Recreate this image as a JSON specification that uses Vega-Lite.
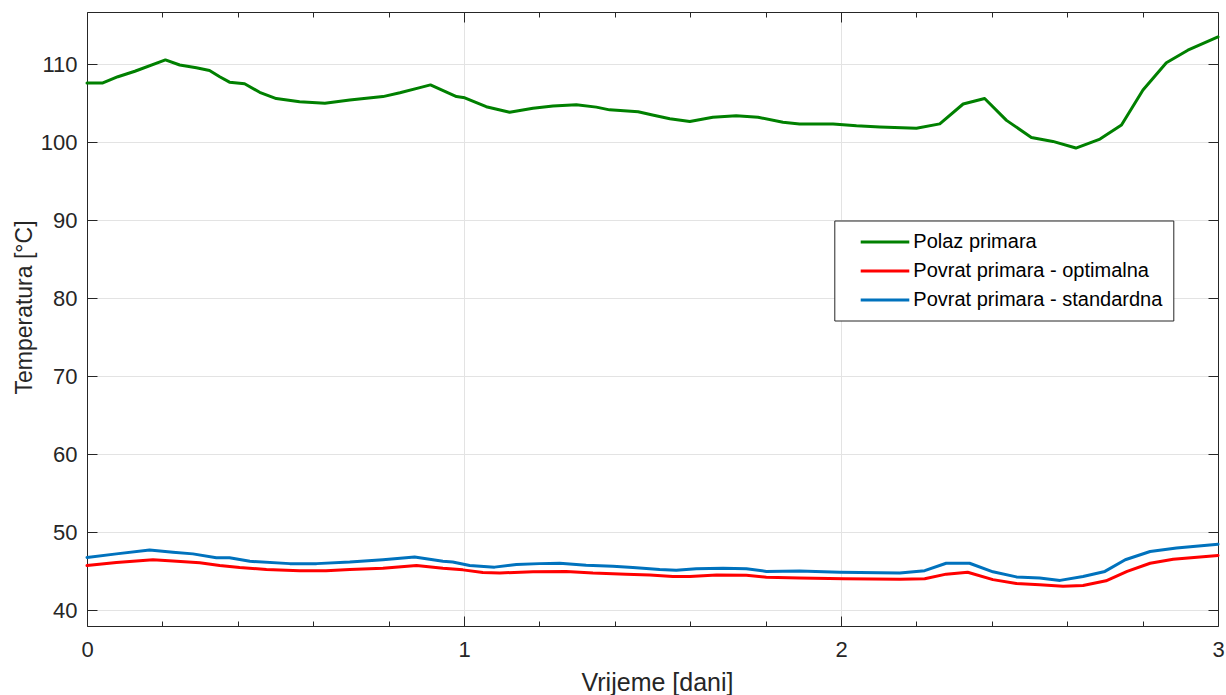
{
  "$schema": "https://vega.github.io/schema/vega-lite/v6.json",
  "width": 1131,
  "height": 614,
  "autosize": {"type": "none"},
  "padding": {"left": 87, "top": 12, "right": 8, "bottom": 69},
  "background": "white",
  "config": {
    "view": {"stroke": null},
    "font": "Liberation Sans",
    "axis": {"labelFont": "Liberation Sans", "titleFont": "Liberation Sans"},
    "legend": {"labelFont": "Liberation Sans"}
  },
  "datasets": {
    "lines": [
      {"t": 0, "T": 107.6, "s": "Polaz primara"},
      {"t": 0.042, "T": 107.6, "s": "Polaz primara"},
      {"t": 0.082, "T": 108.4, "s": "Polaz primara"},
      {"t": 0.127, "T": 109.1, "s": "Polaz primara"},
      {"t": 0.208, "T": 110.55, "s": "Polaz primara"},
      {"t": 0.246, "T": 109.9, "s": "Polaz primara"},
      {"t": 0.29, "T": 109.55, "s": "Polaz primara"},
      {"t": 0.325, "T": 109.2, "s": "Polaz primara"},
      {"t": 0.352, "T": 108.4, "s": "Polaz primara"},
      {"t": 0.378, "T": 107.7, "s": "Polaz primara"},
      {"t": 0.418, "T": 107.5, "s": "Polaz primara"},
      {"t": 0.458, "T": 106.4, "s": "Polaz primara"},
      {"t": 0.502, "T": 105.6, "s": "Polaz primara"},
      {"t": 0.564, "T": 105.2, "s": "Polaz primara"},
      {"t": 0.631, "T": 105.0, "s": "Polaz primara"},
      {"t": 0.697, "T": 105.4, "s": "Polaz primara"},
      {"t": 0.785, "T": 105.85, "s": "Polaz primara"},
      {"t": 0.83, "T": 106.35, "s": "Polaz primara"},
      {"t": 0.883, "T": 107.0, "s": "Polaz primara"},
      {"t": 0.911, "T": 107.35, "s": "Polaz primara"},
      {"t": 0.98, "T": 105.85, "s": "Polaz primara"},
      {"t": 1.002, "T": 105.7, "s": "Polaz primara"},
      {"t": 1.059, "T": 104.55, "s": "Polaz primara"},
      {"t": 1.121, "T": 103.85, "s": "Polaz primara"},
      {"t": 1.183, "T": 104.35, "s": "Polaz primara"},
      {"t": 1.236, "T": 104.65, "s": "Polaz primara"},
      {"t": 1.298, "T": 104.8, "s": "Polaz primara"},
      {"t": 1.351, "T": 104.5, "s": "Polaz primara"},
      {"t": 1.386, "T": 104.15, "s": "Polaz primara"},
      {"t": 1.462, "T": 103.9, "s": "Polaz primara"},
      {"t": 1.5, "T": 103.5, "s": "Polaz primara"},
      {"t": 1.546, "T": 103.0, "s": "Polaz primara"},
      {"t": 1.599, "T": 102.65, "s": "Polaz primara"},
      {"t": 1.66, "T": 103.2, "s": "Polaz primara"},
      {"t": 1.722, "T": 103.4, "s": "Polaz primara"},
      {"t": 1.78, "T": 103.2, "s": "Polaz primara"},
      {"t": 1.846, "T": 102.55, "s": "Polaz primara"},
      {"t": 1.89, "T": 102.35, "s": "Polaz primara"},
      {"t": 1.979, "T": 102.35, "s": "Polaz primara"},
      {"t": 2.041, "T": 102.1, "s": "Polaz primara"},
      {"t": 2.103, "T": 101.95, "s": "Polaz primara"},
      {"t": 2.2, "T": 101.8, "s": "Polaz primara"},
      {"t": 2.262, "T": 102.35, "s": "Polaz primara"},
      {"t": 2.324, "T": 104.9, "s": "Polaz primara"},
      {"t": 2.381, "T": 105.6, "s": "Polaz primara"},
      {"t": 2.439, "T": 102.8, "s": "Polaz primara"},
      {"t": 2.505, "T": 100.6, "s": "Polaz primara"},
      {"t": 2.562, "T": 100.1, "s": "Polaz primara"},
      {"t": 2.623, "T": 99.25, "s": "Polaz primara"},
      {"t": 2.687, "T": 100.4, "s": "Polaz primara"},
      {"t": 2.744, "T": 102.2, "s": "Polaz primara"},
      {"t": 2.801, "T": 106.7, "s": "Polaz primara"},
      {"t": 2.863, "T": 110.2, "s": "Polaz primara"},
      {"t": 2.92, "T": 111.8, "s": "Polaz primara"},
      {"t": 3.0, "T": 113.5, "s": "Polaz primara"},

      {"t": 0, "T": 45.7, "s": "Povrat primara - optimalna"},
      {"t": 0.078, "T": 46.1, "s": "Povrat primara - optimalna"},
      {"t": 0.175, "T": 46.45, "s": "Povrat primara - optimalna"},
      {"t": 0.228, "T": 46.3, "s": "Povrat primara - optimalna"},
      {"t": 0.299, "T": 46.05, "s": "Povrat primara - optimalna"},
      {"t": 0.352, "T": 45.7, "s": "Povrat primara - optimalna"},
      {"t": 0.405, "T": 45.45, "s": "Povrat primara - optimalna"},
      {"t": 0.476, "T": 45.2, "s": "Povrat primara - optimalna"},
      {"t": 0.564, "T": 45.05, "s": "Povrat primara - optimalna"},
      {"t": 0.634, "T": 45.05, "s": "Povrat primara - optimalna"},
      {"t": 0.697, "T": 45.2, "s": "Povrat primara - optimalna"},
      {"t": 0.785, "T": 45.35, "s": "Povrat primara - optimalna"},
      {"t": 0.874, "T": 45.7, "s": "Povrat primara - optimalna"},
      {"t": 0.944, "T": 45.35, "s": "Povrat primara - optimalna"},
      {"t": 0.997, "T": 45.15, "s": "Povrat primara - optimalna"},
      {"t": 1.05, "T": 44.8, "s": "Povrat primara - optimalna"},
      {"t": 1.095, "T": 44.75, "s": "Povrat primara - optimalna"},
      {"t": 1.183, "T": 44.9, "s": "Povrat primara - optimalna"},
      {"t": 1.271, "T": 44.95, "s": "Povrat primara - optimalna"},
      {"t": 1.342, "T": 44.75, "s": "Povrat primara - optimalna"},
      {"t": 1.43, "T": 44.6, "s": "Povrat primara - optimalna"},
      {"t": 1.493, "T": 44.5, "s": "Povrat primara - optimalna"},
      {"t": 1.554, "T": 44.3, "s": "Povrat primara - optimalna"},
      {"t": 1.599, "T": 44.3, "s": "Povrat primara - optimalna"},
      {"t": 1.67, "T": 44.5, "s": "Povrat primara - optimalna"},
      {"t": 1.749, "T": 44.45, "s": "Povrat primara - optimalna"},
      {"t": 1.802, "T": 44.2, "s": "Povrat primara - optimalna"},
      {"t": 1.89, "T": 44.1, "s": "Povrat primara - optimalna"},
      {"t": 2.007, "T": 44.0, "s": "Povrat primara - optimalna"},
      {"t": 2.156, "T": 43.95, "s": "Povrat primara - optimalna"},
      {"t": 2.222, "T": 44.0, "s": "Povrat primara - optimalna"},
      {"t": 2.279, "T": 44.6, "s": "Povrat primara - optimalna"},
      {"t": 2.336, "T": 44.85, "s": "Povrat primara - optimalna"},
      {"t": 2.403, "T": 43.9, "s": "Povrat primara - optimalna"},
      {"t": 2.465, "T": 43.4, "s": "Povrat primara - optimalna"},
      {"t": 2.527, "T": 43.25, "s": "Povrat primara - optimalna"},
      {"t": 2.589, "T": 43.05, "s": "Povrat primara - optimalna"},
      {"t": 2.642, "T": 43.15, "s": "Povrat primara - optimalna"},
      {"t": 2.703, "T": 43.75, "s": "Povrat primara - optimalna"},
      {"t": 2.759, "T": 44.95, "s": "Povrat primara - optimalna"},
      {"t": 2.82, "T": 46.0, "s": "Povrat primara - optimalna"},
      {"t": 2.881, "T": 46.5, "s": "Povrat primara - optimalna"},
      {"t": 3.0, "T": 47.0, "s": "Povrat primara - optimalna"},

      {"t": 0, "T": 46.75, "s": "Povrat primara - standardna"},
      {"t": 0.078, "T": 47.2, "s": "Povrat primara - standardna"},
      {"t": 0.166, "T": 47.7, "s": "Povrat primara - standardna"},
      {"t": 0.228, "T": 47.4, "s": "Povrat primara - standardna"},
      {"t": 0.281, "T": 47.2, "s": "Povrat primara - standardna"},
      {"t": 0.343, "T": 46.7, "s": "Povrat primara - standardna"},
      {"t": 0.378, "T": 46.7, "s": "Povrat primara - standardna"},
      {"t": 0.432, "T": 46.25, "s": "Povrat primara - standardna"},
      {"t": 0.538, "T": 45.95, "s": "Povrat primara - standardna"},
      {"t": 0.609, "T": 45.95, "s": "Povrat primara - standardna"},
      {"t": 0.697, "T": 46.15, "s": "Povrat primara - standardna"},
      {"t": 0.785, "T": 46.45, "s": "Povrat primara - standardna"},
      {"t": 0.869, "T": 46.8, "s": "Povrat primara - standardna"},
      {"t": 0.944, "T": 46.25, "s": "Povrat primara - standardna"},
      {"t": 0.97, "T": 46.15, "s": "Povrat primara - standardna"},
      {"t": 1.015, "T": 45.7, "s": "Povrat primara - standardna"},
      {"t": 1.081, "T": 45.5, "s": "Povrat primara - standardna"},
      {"t": 1.139, "T": 45.85, "s": "Povrat primara - standardna"},
      {"t": 1.2, "T": 45.95, "s": "Povrat primara - standardna"},
      {"t": 1.254, "T": 46.0, "s": "Povrat primara - standardna"},
      {"t": 1.324, "T": 45.75, "s": "Povrat primara - standardna"},
      {"t": 1.395, "T": 45.6, "s": "Povrat primara - standardna"},
      {"t": 1.448, "T": 45.45, "s": "Povrat primara - standardna"},
      {"t": 1.519, "T": 45.2, "s": "Povrat primara - standardna"},
      {"t": 1.563, "T": 45.1, "s": "Povrat primara - standardna"},
      {"t": 1.616, "T": 45.3, "s": "Povrat primara - standardna"},
      {"t": 1.687, "T": 45.35, "s": "Povrat primara - standardna"},
      {"t": 1.749, "T": 45.3, "s": "Povrat primara - standardna"},
      {"t": 1.802, "T": 44.95, "s": "Povrat primara - standardna"},
      {"t": 1.89, "T": 45.0, "s": "Povrat primara - standardna"},
      {"t": 1.997, "T": 44.85, "s": "Povrat primara - standardna"},
      {"t": 2.156, "T": 44.75, "s": "Povrat primara - standardna"},
      {"t": 2.222, "T": 45.05, "s": "Povrat primara - standardna"},
      {"t": 2.279, "T": 46.0, "s": "Povrat primara - standardna"},
      {"t": 2.341, "T": 46.0, "s": "Povrat primara - standardna"},
      {"t": 2.403, "T": 44.9, "s": "Povrat primara - standardna"},
      {"t": 2.465, "T": 44.25, "s": "Povrat primara - standardna"},
      {"t": 2.527, "T": 44.1, "s": "Povrat primara - standardna"},
      {"t": 2.581, "T": 43.8, "s": "Povrat primara - standardna"},
      {"t": 2.642, "T": 44.3, "s": "Povrat primara - standardna"},
      {"t": 2.7, "T": 44.95, "s": "Povrat primara - standardna"},
      {"t": 2.754, "T": 46.45, "s": "Povrat primara - standardna"},
      {"t": 2.82, "T": 47.5, "s": "Povrat primara - standardna"},
      {"t": 2.89, "T": 47.95, "s": "Povrat primara - standardna"},
      {"t": 3.0, "T": 48.45, "s": "Povrat primara - standardna"}
    ]
  },
  "data": {"name": "lines"},
  "layer": [
    {
      "mark": {"type": "line", "strokeWidth": 3, "strokeJoin": "round", "strokeCap": "round"},
      "encoding": {
        "x": {
          "field": "t",
          "type": "quantitative",
          "scale": {"domain": [0, 3], "nice": false, "zero": false},
          "axis": {
            "orient": "bottom",
            "values": [0, 0.2, 0.4, 0.6, 0.8, 1, 1.2, 1.4, 1.6, 1.8, 2, 2.2, 2.4, 2.6, 2.8, 3],
            "labelExpr": "datum.value % 1 === 0 ? format(datum.value, 'd') : ''",
            "labelOverlap": false,
            "labelFlush": false,
            "labelFontSize": 22,
            "labelColor": "#262626",
            "labelPadding": 23,
            "tickSize": {"condition": {"test": "datum.value % 1 === 0", "value": -10}, "value": -5},
            "tickColor": "#262626",
            "domainColor": "#262626",
            "grid": true,
            "gridColor": "#e3e3e3",
            "gridOpacity": {"condition": {"test": "datum.value % 1 === 0", "value": 1}, "value": 0},
            "title": "Vrijeme [dani]",
            "titleFontSize": 25,
            "titleFontWeight": "normal",
            "titleColor": "#262626",
            "titleX": 570,
            "titleY": 64,
            "titleBaseline": "alphabetic",
            "titleAlign": "center"
          }
        },
        "y": {
          "field": "T",
          "type": "quantitative",
          "scale": {"domain": [37.95, 116.7], "nice": false, "zero": false},
          "axis": {
            "orient": "left",
            "values": [40, 50, 60, 70, 80, 90, 100, 110],
            "labelFontSize": 22,
            "labelColor": "#262626",
            "labelPadding": 20,
            "tickSize": -10,
            "tickColor": "#262626",
            "domainColor": "#262626",
            "grid": true,
            "gridColor": "#e3e3e3",
            "title": "Temperatura [°C]",
            "titleFontSize": 23,
            "titleFontWeight": "normal",
            "titleColor": "#262626",
            "titleX": -55.6,
            "titleY": 295,
            "titleAngle": 270,
            "titleBaseline": "alphabetic",
            "titleAlign": "center"
          }
        },
        "color": {
          "field": "s",
          "type": "nominal",
          "scale": {
            "domain": ["Polaz primara", "Povrat primara - optimalna", "Povrat primara - standardna"],
            "range": ["#008000", "#ff0000", "#0072bd"]
          },
          "legend": {
            "orient": "none",
            "legendX": 747.3,
            "legendY": 208.5,
            "title": null,
            "symbolType": "M-2.43,0H2.43",
            "symbolSize": 400,
            "symbolStrokeWidth": 3,
            "symbolOffset": 29.2,
            "labelOffset": 16.8,
            "labelFontSize": 20,
            "labelColor": "#000000",
            "labelLimit": 500,
            "padding": 10,
            "rowPadding": 7,
            "strokeColor": "#262626",
            "fillColor": "#ffffff"
          }
        }
      }
    },
    {
      "mark": {"type": "line", "strokeOpacity": 0},
      "encoding": {
        "x": {
          "field": "t",
          "type": "quantitative",
          "scale": {"domain": [0, 3], "nice": false, "zero": false},
          "axis": {
            "orient": "top",
            "values": [0, 0.2, 0.4, 0.6, 0.8, 1, 1.2, 1.4, 1.6, 1.8, 2, 2.2, 2.4, 2.6, 2.8, 3],
            "labels": false,
            "tickSize": {"condition": {"test": "datum.value % 1 === 0", "value": -10}, "value": -5},
            "tickColor": "#262626",
            "domainColor": "#262626",
            "grid": false,
            "title": null
          }
        },
        "y": {
          "field": "T",
          "type": "quantitative",
          "scale": {"domain": [37.95, 116.7], "nice": false, "zero": false},
          "axis": {
            "orient": "right",
            "values": [40, 50, 60, 70, 80, 90, 100, 110],
            "labels": false,
            "tickSize": -10,
            "tickColor": "#262626",
            "domainColor": "#262626",
            "grid": false,
            "title": null
          }
        },
        "detail": {"field": "s", "type": "nominal"}
      }
    }
  ],
  "resolve": {
    "scale": {"x": "independent", "y": "independent"},
    "axis": {"x": "independent", "y": "independent"}
  }
}
